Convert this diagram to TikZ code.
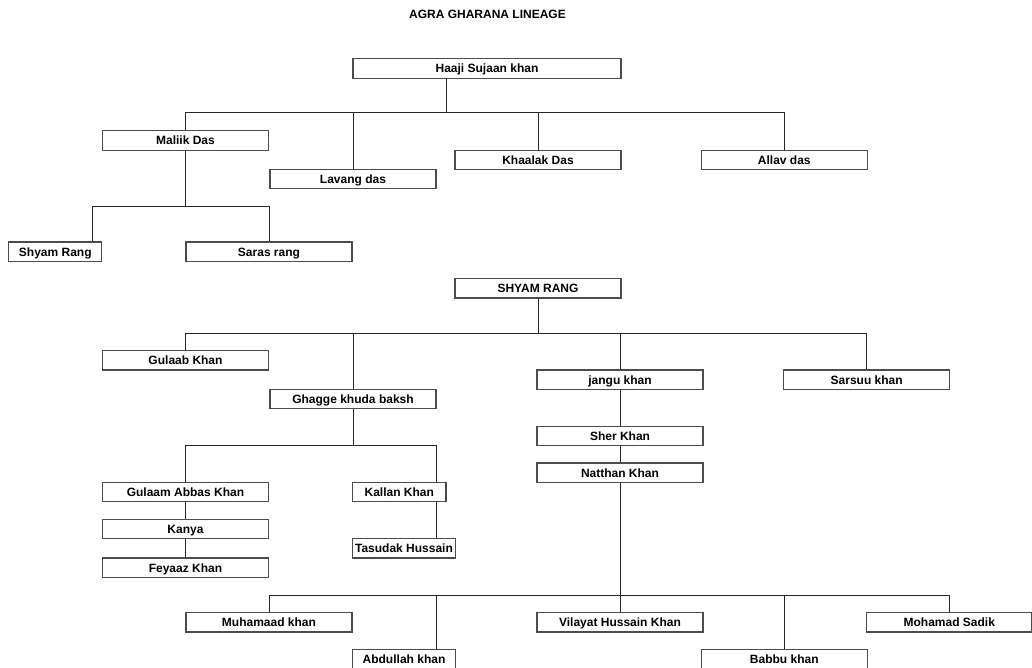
\documentclass[tikz,border=0pt]{standalone}
\usepackage{fontspec}
\setmainfont{Liberation Sans}

\begin{document}
\begin{tikzpicture}[x=1pt, y=-1pt,
        box/.style={draw=black!70, line width=1.2pt, rectangle, minimum width=166pt,
            minimum height=19.5pt, inner sep=0pt, text height=8.8pt, text depth=0.2pt,
            font=\fontsize{12}{14}\bfseries},
        link/.style={draw=black!85, line width=1pt}]
    \useasboundingbox (0,0) rectangle (1032,668);

    \node[font=\fontsize{12}{14}\bfseries] (title) at (487.5,14) {AGRA GHARANA LINEAGE};

    % first tree
    \node[box, minimum width=268pt] (haaji) at (487,68.5) {Haaji Sujaan khan};
    \node[box] (maliik) at (185.5,140.5) {Maliik Das};
    \node[box] (lavang) at (353,179) {Lavang das};
    \node[box] (khaalak) at (538,160) {Khaalak Das};
    \node[box] (allav) at (784.3,160) {Allav das};
    \node[box, minimum width=93pt] (shyamrang) at (55.3,251.7) {Shyam Rang};
    \node[box] (saras) at (269,251.7) {Saras rang};

    \coordinate (j1) at (446,113);
    \coordinate (j2) at (185.5,206.3);
    \coordinate (s1) at (92.7,206.3);

    \draw[link] (haaji.south -| j1) -- (j1);
    \draw[link] (maliik.north) -- (maliik.north |- j1) -- (allav.north |- j1) -- (allav.north);
    \draw[link] (lavang.north) -- (lavang.north |- j1);
    \draw[link] (khaalak.north) -- (khaalak.north |- j1);
    \draw[link] (maliik.south) -- (j2);
    \draw[link] (shyamrang.north -| s1) -- (s1) -- (saras.north |- j2) -- (saras.north);

    % second tree
    \node[box] (shyam) at (538,288.3) {SHYAM RANG};
    \node[box] (gulaab) at (185.5,360.2) {Gulaab Khan};
    \node[box] (ghagge) at (353,399) {Ghagge khuda baksh};
    \node[box] (jangu) at (620,379.7) {jangu khan};
    \node[box] (sarsuu) at (866.7,379.7) {Sarsuu khan};
    \node[box] (gulaam) at (185.5,492) {Gulaam Abbas Khan};
    \node[box] (kanya) at (185.5,529) {Kanya};
    \node[box] (feyaaz) at (185.5,567.7) {Feyaaz Khan};
    \node[box, minimum width=93.3pt] (kallan) at (399.3,492) {Kallan Khan};
    \node[box, minimum width=102.6pt] (tasudak) at (404,548.3) {Tasudak Hussain};
    \node[box] (sher) at (620,436) {Sher Khan};
    \node[box] (natthan) at (620,472.8) {Natthan Khan};
    \node[box] (muham) at (269,622.2) {Muhamaad khan};
    \node[box, minimum width=102.6pt] (abdullah) at (404,659.2) {Abdullah khan};
    \node[box] (vilayat) at (620,622.2) {Vilayat Hussain Khan};
    \node[box] (babbu) at (784.3,659.2) {Babbu khan};
    \node[box, minimum width=165pt] (sadik) at (949.3,622.2) {Mohamad Sadik};

    \coordinate (j3) at (538,333);
    \coordinate (j4) at (353,445.7);
    \coordinate (k1) at (436.7,445.7);
    \coordinate (j5) at (620,595);
    \coordinate (a1) at (436.7,595);

    \draw[link] (shyam.south) -- (j3);
    \draw[link] (gulaab.north) -- (gulaab.north |- j3) -- (sarsuu.north |- j3) -- (sarsuu.north);
    \draw[link] (ghagge.north) -- (ghagge.north |- j3);
    \draw[link] (jangu.north) -- (jangu.north |- j3);
    \draw[link] (ghagge.south) -- (j4);
    \draw[link] (gulaam.north) -- (gulaam.north |- j4) -- (k1) -- (kallan.north -| k1);
    \draw[link] (gulaam.south) -- (kanya.north);
    \draw[link] (kanya.south) -- (feyaaz.north);
    \draw[link] (kallan.south -| k1) -- (tasudak.north -| k1);
    \draw[link] (jangu.south) -- (sher.north);
    \draw[link] (sher.south) -- (natthan.north);
    \draw[link] (natthan.south) -- (j5);
    \draw[link] (muham.north) -- (muham.north |- j5) -- (sadik.north |- j5) -- (sadik.north);
    \draw[link] (a1) -- (abdullah.north -| a1);
    \draw[link] (vilayat.north) -- (j5);
    \draw[link] (babbu.north) -- (babbu.north |- j5);
\end{tikzpicture}
\end{document}
